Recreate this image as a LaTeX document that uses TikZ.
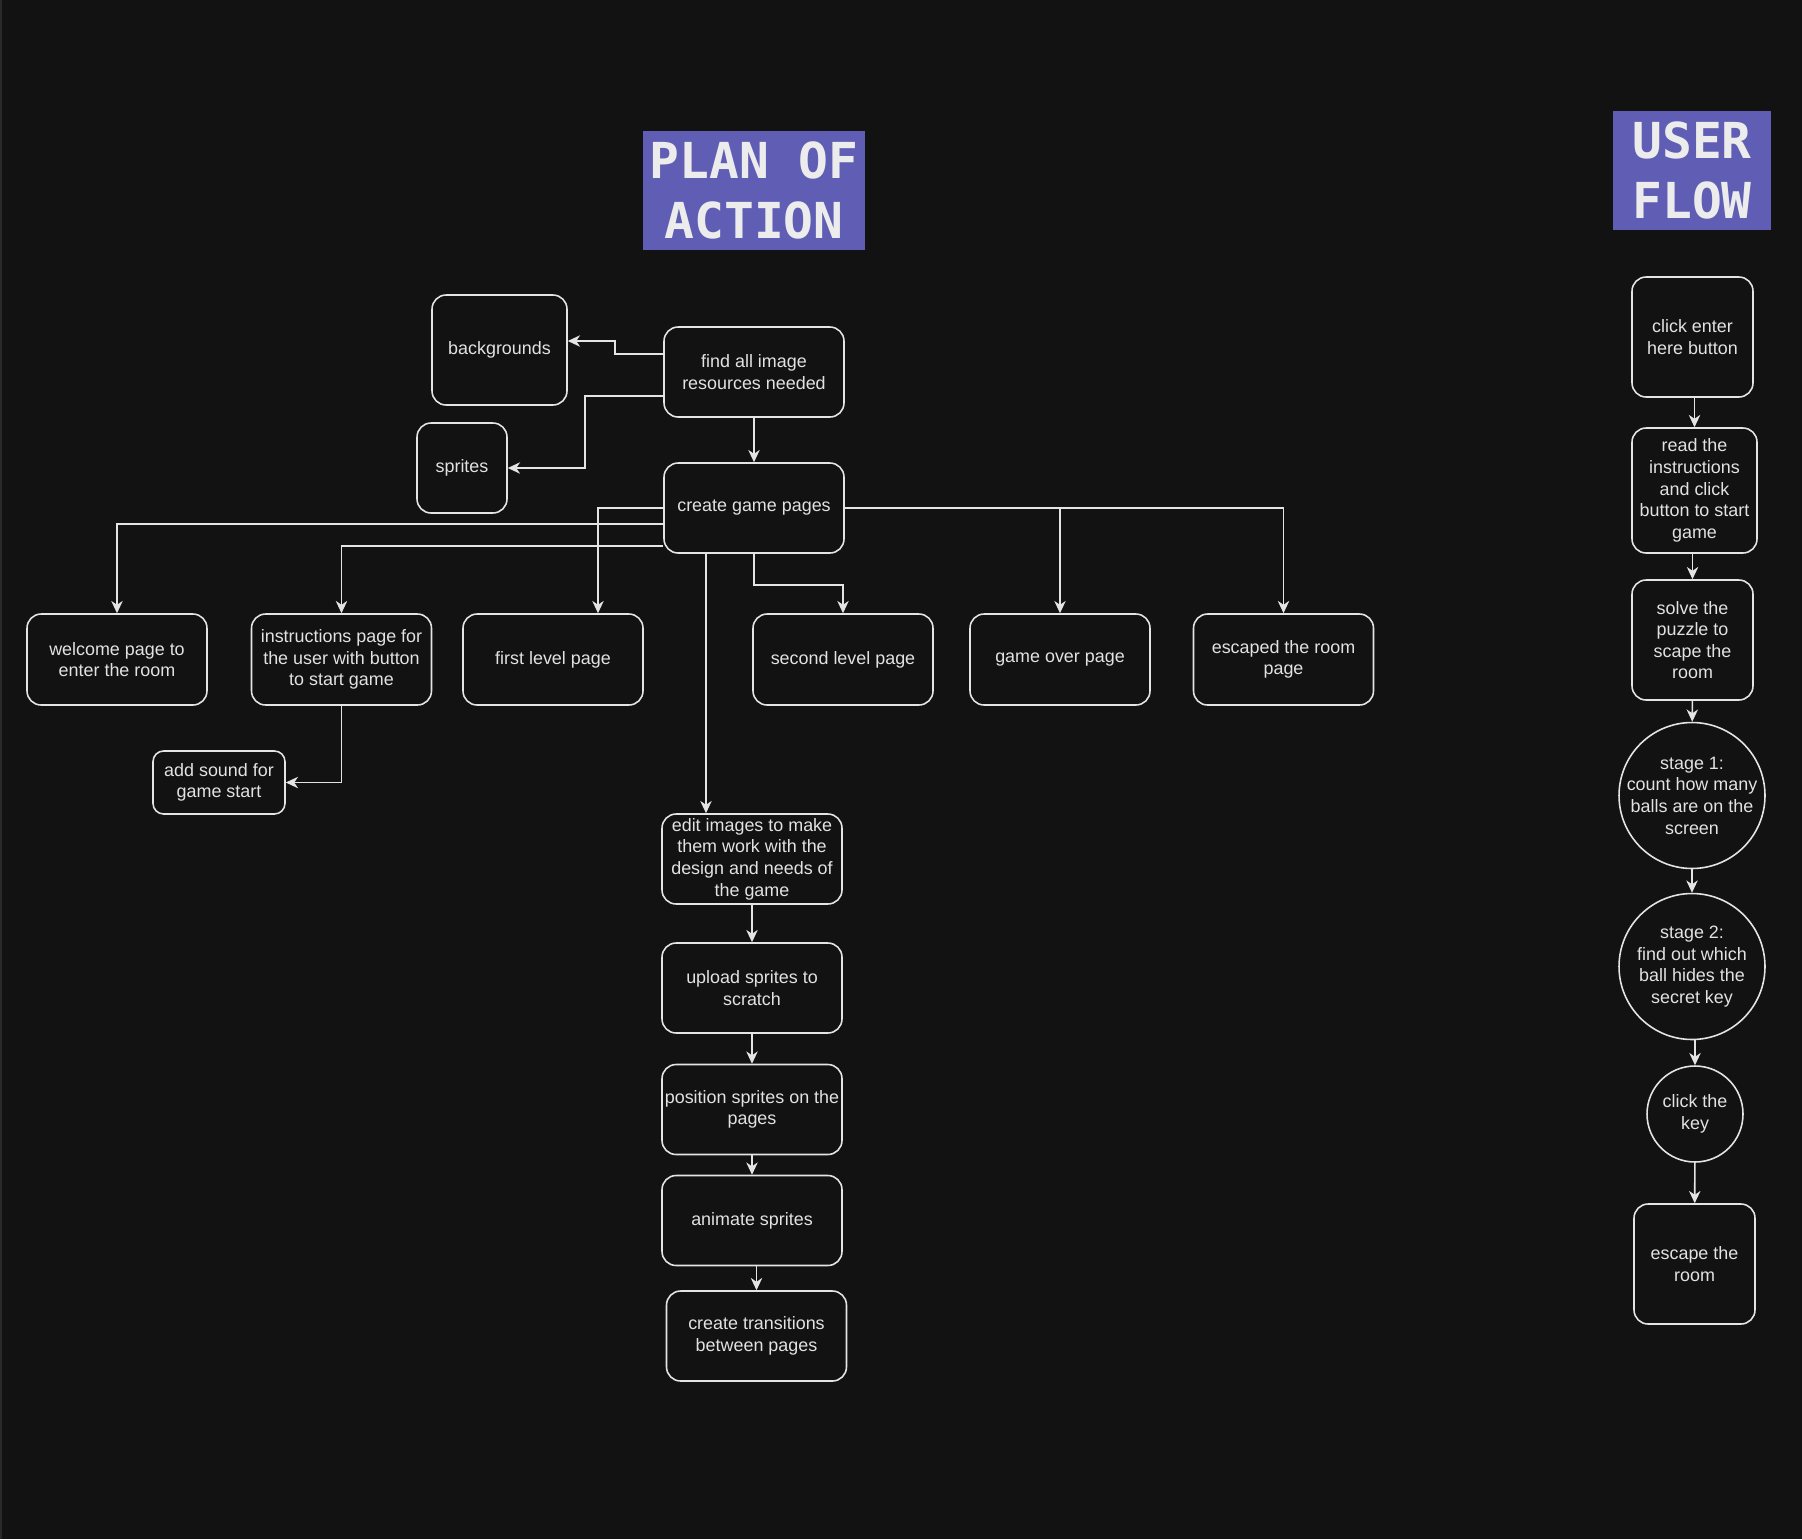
\documentclass[tikz,border=0pt]{standalone}
\usepackage{fontspec}
\setmainfont{Liberation Sans}
\newfontfamily\titlefont{DejaVu Sans Mono}
\usepackage{xcolor}
\usepackage{tikz}
\usetikzlibrary{arrows.meta, positioning, calc}
\definecolor{bgcolor}{RGB}{18, 18, 18}
\definecolor{edgecolor}{RGB}{42, 42, 42}
\definecolor{linecolor}{RGB}{228, 228, 228}
\definecolor{textcolor}{RGB}{226, 226, 226}
\definecolor{titlecolor}{RGB}{95, 94, 180}
\definecolor{titletext}{RGB}{236, 236, 236}
\newcommand{\boxfont}{\fontsize{10.2}{12.3}\selectfont}
\newcommand{\headfont}{\titlefont\bfseries\fontsize{28.2}{33.8}\selectfont}
\tikzset{
  taskbox/.style={draw=linecolor, line width=0.9pt, rounded corners=8pt, minimum width=3.6cm, minimum height=1.8cm, inner sep=1pt, font=\boxfont, text=textcolor, align=center},
  stagecircle/.style={draw=linecolor, line width=0.9pt, circle, minimum size=2.92cm, inner sep=-8pt, font=\boxfont, text=textcolor, align=center},
  headbox/.style={fill=titlecolor, minimum height=2.38cm, inner sep=0pt, font=\headfont, text=titletext, align=center},
  link/.style={-{Stealth[length=7pt, width=6.5pt, inset=2.2pt]}, draw=linecolor, line width=0.9pt}
}

\begin{document}
\begin{tikzpicture}[x=0.02cm, y=-0.02cm]
        % Canvas
        \fill[bgcolor] (0,0) rectangle (1802,1539);
        \fill[edgecolor] (0,0) rectangle (2,1539);
        \useasboundingbox (0,0) rectangle (1802,1539);

        % Titles
        \node[headbox, minimum width=4.44cm] (plantitle) at (754, 190.5) {PLAN OF\\ACTION};
        \node[headbox, minimum width=3.16cm] (flowtitle) at (1692, 170.5) {USER\\FLOW};

        % Image resources
        \node[taskbox, minimum width=2.7cm, minimum height=2.2cm] (backgrounds) at (499.5, 350) {backgrounds};
        \node[taskbox] (findimages) at (754, 372) {find all image\\resources needed};
        \node[taskbox, minimum width=1.8cm] (sprites) at (462, 468) {sprites};
        \node[taskbox] (gamepages) at (754, 508) {create game pages};

        \draw[link] ($(findimages.west)+(0,-18)$) -- ++(-48,0) |- ($(backgrounds.east)+(0,-9)$);
        \draw[link] ($(findimages.west)+(0,24)$) -- ++(-78,0) |- (sprites.east);
        \draw[link] (findimages) -- (gamepages);

        % Game pages
        \node[taskbox, minimum height=1.82cm] (welcome) at (117, 659.5) {welcome page to\\enter the room};
        \node[taskbox, minimum height=1.82cm] (instructions) at (341.5, 659.5) {instructions page for\\the user with button\\to start game};
        \node[taskbox, minimum height=1.82cm] (firstlevel) at (553, 659.5) {first level page};
        \node[taskbox, minimum height=1.82cm] (secondlevel) at (843, 659.5) {second level page};
        \node[taskbox, minimum height=1.82cm] (gameover) at (1060, 659.5) {game over page};
        \node[taskbox, minimum height=1.82cm] (escaped) at (1283.5, 659.5) {escaped the room\\page};
        \node[taskbox, minimum width=2.64cm, minimum height=1.26cm, rounded corners=6pt] (sound) at (219, 782.5) {add sound for\\game start};

        \draw[link] ($(gamepages.west)+(0,16)$) -| (welcome.north);
        \draw[link] ($(gamepages.west)+(0,38)$) -| (instructions.north);
        \draw[link] (gamepages.west) -| ($(firstlevel.north)+(45,0)$);
        \draw[link] (gamepages.south) -- ++(0,31) -| (secondlevel.north);
        \draw[link] (gamepages.east) -| (gameover.north);
        \draw[link] (gamepages.east) -| (escaped.north);
        \draw[link] (instructions.south) |- (sound.east);

        % Sprite work
        \node[taskbox] (editimages) at (752, 859) {edit images to make\\them work with the\\design and needs of\\the game};
        \node[taskbox] (upload) at (752, 988) {upload sprites to\\scratch};
        \node[taskbox] (position) at (752, 1109.5) {position sprites on the\\pages};
        \node[taskbox] (animate) at (752, 1220.5) {animate sprites};
        \node[taskbox] (transitions) at (756.5, 1336) {create transitions\\between pages};

        \coordinate (pagesfoot) at ($(gamepages.south)+(-48,0)$);
        \draw[link] (pagesfoot) -- (pagesfoot |- editimages.north);
        \draw[link] (editimages) -- (upload);
        \draw[link] (upload) -- (position);
        \draw[link] (position) -- (animate);
        \draw[link] (transitions.north |- animate.south) -- (transitions.north);

        % User flow
        \node[taskbox, minimum width=2.42cm, minimum height=2.4cm] (clickenter) at (1692.5, 337) {click enter\\here button};
        \node[taskbox, minimum width=2.5cm, minimum height=2.5cm] (readrules) at (1694.5, 490.5) {read the\\instructions\\and click\\button to start\\game};
        \node[taskbox, minimum width=2.42cm, minimum height=2.4cm] (solve) at (1692.5, 640) {solve the\\puzzle to\\scape the\\room};
        \node[stagecircle] (stageone) at (1692, 795.5) {stage 1:\\count how many\\balls are on the\\screen};
        \node[stagecircle] (stagetwo) at (1692, 966.5) {stage 2:\\find out which\\ball hides the\\secret key};
        \node[stagecircle, minimum size=1.92cm] (clickkey) at (1695, 1114) {click the\\key};
        \node[taskbox, minimum width=2.42cm, minimum height=2.4cm] (escape) at (1694.5, 1264) {escape the\\room};

        \draw[link] (readrules.north |- clickenter.south) -- (readrules.north);
        \draw[link] (solve.north |- readrules.south) -- (solve.north);
        \draw[link] (solve) -- (stageone);
        \draw[link] (stageone) -- (stagetwo);
        \draw[link] (clickkey.north |- stagetwo.south) -- (clickkey.north);
        \draw[link] (clickkey) -- (escape);

    \end{tikzpicture}
\end{document}
